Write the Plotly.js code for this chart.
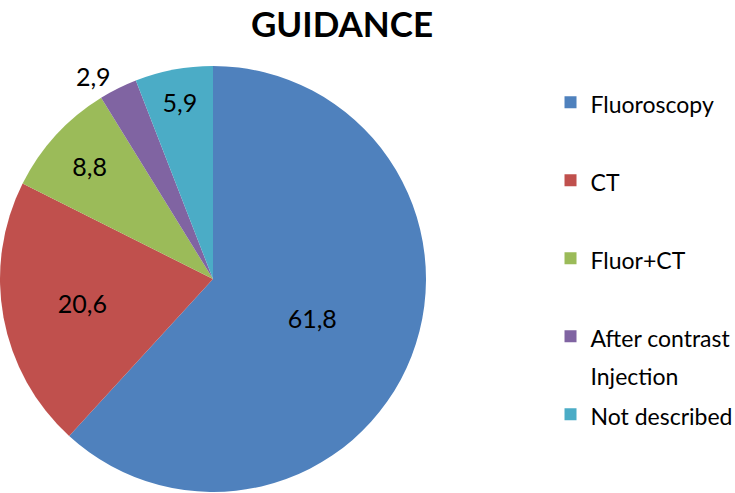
<!DOCTYPE html>
<html><head><meta charset="utf-8">
<script src="https://cdn.plot.ly/plotly-3.0.1.min.js"></script>
<style>html,body{margin:0;padding:0;background:#fff}</style>
</head><body><div id="chart" style="width:735px;height:493px"></div>
<script>
const categories = ['Fluoroscopy', 'CT', 'Fluor+CT', 'After contrast Injection', 'Not described'];
const legendLines = [['Fluoroscopy'], ['CT'], ['Fluor+CT'], ['After contrast', 'Injection'], ['Not described']];
const values = [61.8, 20.6, 8.8, 2.9, 5.9];
const colors = ['#4F81BD', '#C0504D', '#9BBB59', '#8064A2', '#4BACC6'];
const textPositions = ['inside', 'inside', 'inside', 'outside', 'inside'];

const FONT = 'Lato, "Open Sans", sans-serif';
const span = s => '<span style="font-size:23px">' + s + '</span>';
const labels = legendLines.map(l => l.map(span).join('<br>') + (l.length < 2 ? '<br>\u00a0' : ''));

const data = [{
  type: 'pie',
  labels: labels,
  values: values,
  sort: false,
  direction: 'clockwise',
  rotation: 0,
  marker: {colors: colors, line: {width: 0}},
  texttemplate: '%{value:.1f}',
  textposition: textPositions,
  insidetextorientation: 'horizontal',
  textfont: {family: FONT, size: 25, color: '#000'},
  domain: {x: [0, 426 / 735], y: [1 / 493, 427 / 493]},
  automargin: false,
  hoverinfo: 'none'
}];

const layout = {
  width: 735, height: 493,
  margin: {l: 0, r: 0, t: 0, b: 0, autoexpand: false},
  paper_bgcolor: '#fff',
  separators: ', ',
  font: {family: FONT, color: '#000'},
  title: {text: 'GUIDANCE', font: {family: FONT, size: 35, weight: 700, color: '#000'},
          x: 342 / 735, xanchor: 'center', xref: 'paper', yref: 'container', y: 0.975, yanchor: 'top'},
  showlegend: true,
  legend: {x: 0.749, xanchor: 'left', y: 0.844, yanchor: 'top',
           valign: 'top', font: {family: FONT, size: 28.85, color: '#000'}, bgcolor: 'rgba(0,0,0,0)'}
};

Plotly.newPlot('chart', data, layout, {displayModeBar: false, staticPlot: true});
</script></body></html>
